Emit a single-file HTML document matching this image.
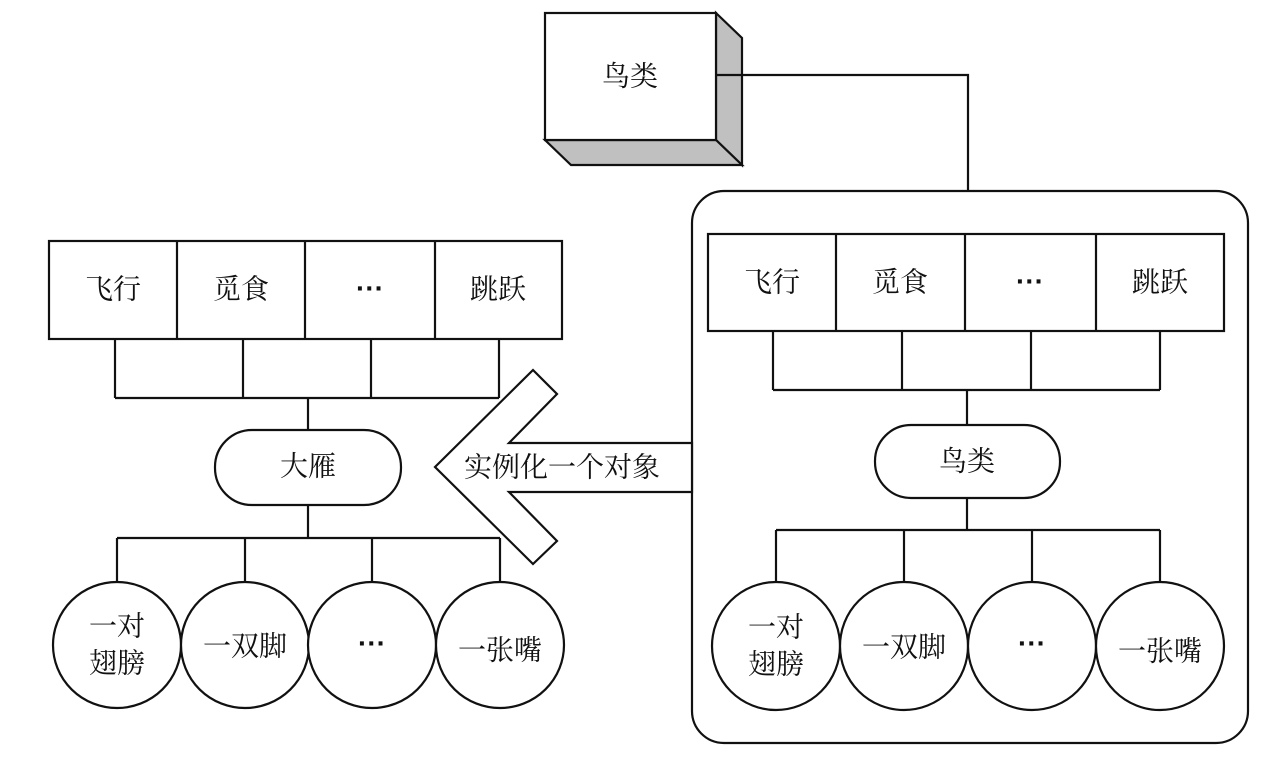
<!DOCTYPE html>
<html><head><meta charset="utf-8"><style>
body{margin:0;background:#fff}
text{font-family:"Liberation Serif","Noto Serif CJK SC","Noto Sans CJK SC",serif;font-size:28px;fill:#111;text-anchor:middle;dominant-baseline:central}
.d{font-weight:bold;font-family:"Liberation Sans",sans-serif}
</style></head><body>
<svg width="1280" height="760" viewBox="0 0 1280 760" xmlns="http://www.w3.org/2000/svg">
<g stroke="#111" stroke-width="2.2" fill="none">
<polygon points="716,13 742,38 742,165 716,140" fill="#c0c0c0"/>
<polygon points="545,140 716,140 742,165 571,165" fill="#c0c0c0"/>
<rect x="545" y="13" width="171" height="127" fill="#fff"/>
<polyline points="716,75 968,75 968,191"/>
<rect x="692" y="191" width="556" height="552" rx="32" fill="#fff"/>
<rect x="708" y="234" width="516" height="97" fill="#fff"/>
<line x1="836" y1="234" x2="836" y2="331"/><line x1="965" y1="234" x2="965" y2="331"/><line x1="1096" y1="234" x2="1096" y2="331"/>
<line x1="773" y1="331" x2="773" y2="390"/><line x1="902" y1="331" x2="902" y2="390"/><line x1="1031" y1="331" x2="1031" y2="390"/><line x1="1160" y1="331" x2="1160" y2="390"/>
<line x1="773" y1="390" x2="1160" y2="390"/>
<line x1="967" y1="390" x2="967" y2="425"/>
<rect x="875" y="425" width="185" height="73" rx="36" fill="#fff"/>
<line x1="967" y1="498" x2="967" y2="530"/>
<line x1="776" y1="530" x2="1160" y2="530"/>
<line x1="776" y1="530" x2="776" y2="582"/><line x1="904" y1="530" x2="904" y2="582"/><line x1="1032" y1="530" x2="1032" y2="582"/><line x1="1160" y1="530" x2="1160" y2="582"/>
<ellipse cx="776" cy="646" rx="64" ry="64" fill="#fff"/><ellipse cx="904" cy="646" rx="64" ry="64" fill="#fff"/><ellipse cx="1032" cy="646" rx="64" ry="64" fill="#fff"/><ellipse cx="1160" cy="646" rx="64" ry="64" fill="#fff"/>
<rect x="49" y="241" width="513" height="98" fill="#fff"/>
<line x1="177" y1="241" x2="177" y2="339"/><line x1="305" y1="241" x2="305" y2="339"/><line x1="435" y1="241" x2="435" y2="339"/>
<line x1="115" y1="339" x2="115" y2="398"/><line x1="243" y1="339" x2="243" y2="398"/><line x1="371" y1="339" x2="371" y2="398"/><line x1="499" y1="339" x2="499" y2="398"/>
<line x1="115" y1="398" x2="499" y2="398"/>
<line x1="308" y1="398" x2="308" y2="430"/>
<rect x="215" y="430" width="186" height="75" rx="37" fill="#fff"/>
<line x1="308" y1="505" x2="308" y2="538"/>
<line x1="117" y1="538" x2="500" y2="538"/>
<line x1="117" y1="538" x2="117" y2="582"/><line x1="245" y1="538" x2="245" y2="582"/><line x1="372" y1="538" x2="372" y2="582"/><line x1="500" y1="538" x2="500" y2="582"/>
<ellipse cx="117" cy="645" rx="64" ry="63" fill="#fff"/><ellipse cx="245" cy="645" rx="64" ry="63" fill="#fff"/><ellipse cx="372" cy="645" rx="64" ry="63" fill="#fff"/><ellipse cx="500" cy="645" rx="64" ry="63" fill="#fff"/>
<polygon points="435,467 533,370 557,394 509,443 692,443 692,492 509,492 557,541 533,564" fill="#fff"/>
</g>
<text x="630" y="77">鸟类</text>
<text x="772" y="283">飞行</text><text x="900" y="283">觅食</text><text class="d" x="1030" y="281">···</text><text x="1160" y="283">跳跃</text>
<text x="967" y="462">鸟类</text>
<text x="776" y="628">一对</text><text x="776" y="665">翅膀</text>
<text x="904" y="648">一双脚</text><text class="d" x="1032" y="643">···</text><text x="1160" y="652">一张嘴</text>
<text x="113" y="290">飞行</text><text x="241" y="290">觅食</text><text class="d" x="370" y="288">···</text><text x="498" y="290">跳跃</text>
<text x="308" y="467">大雁</text>
<text x="117" y="627">一对</text><text x="117" y="664">翅膀</text>
<text x="245" y="647">一双脚</text><text class="d" x="372" y="643">···</text><text x="500" y="651">一张嘴</text>
<text x="562" y="468">实例化一个对象</text>
</svg>
</body></html>
